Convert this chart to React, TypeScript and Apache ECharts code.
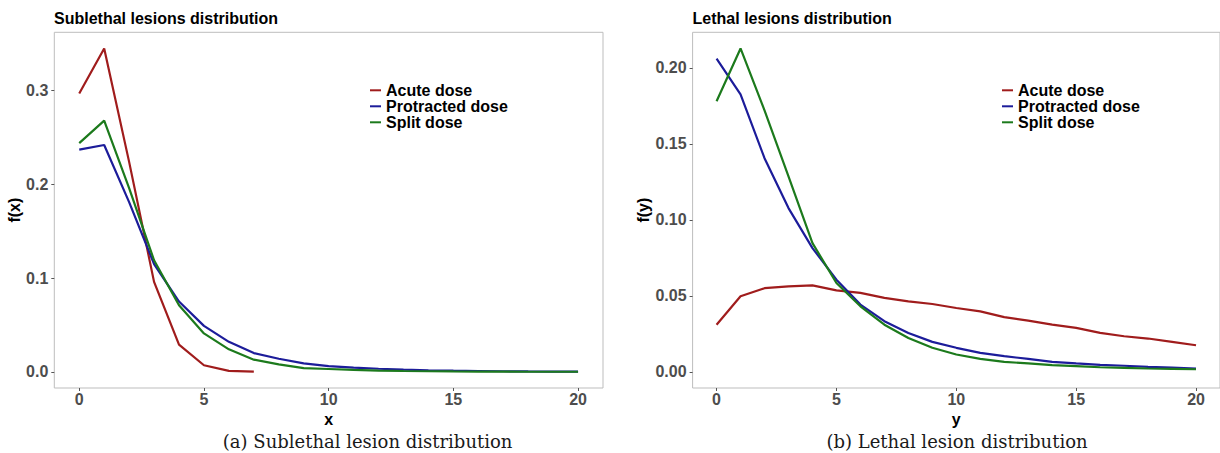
import React, { useEffect, useRef } from "react";
import * as echarts from "echarts";

// ---------- data ----------
const xValues = [0, 1, 2, 3, 4, 5, 6, 7, 8, 9, 10, 11, 12, 13, 14, 15, 16, 17, 18, 19, 20];
const seriesNames = ["Acute dose", "Protracted dose", "Split dose"];
const xTicks = [0, 5, 10, 15, 20];
const ySubTicks = [0, 0.1, 0.2, 0.3];
const yLethTicks = [0, 0.05, 0.1, 0.15, 0.2];

// Sublethal lesions, f(x)
const subAcute = [0.297, 0.345, 0.224, 0.096, 0.029, 0.007, 0.001, 0.0002];
const subProtracted = [0.237, 0.242, 0.181, 0.115, 0.075, 0.049, 0.032, 0.02, 0.014, 0.009, 0.006, 0.0045, 0.0033, 0.0024, 0.0017, 0.0012, 0.0009, 0.0006, 0.0004, 0.0003, 0.0002];
const subSplit = [0.244, 0.268, 0.196, 0.119, 0.071, 0.041, 0.024, 0.013, 0.008, 0.004, 0.003, 0.002, 0.0013, 0.0009, 0.0006, 0.0004, 0.0003, 0.0002, 0.0001, 0.0001, 0.0001];

// Lethal lesions, f(y)
const lethAcute = [0.031, 0.0497, 0.055, 0.0562, 0.0569, 0.0536, 0.0519, 0.0486, 0.0464, 0.0446, 0.042, 0.0398, 0.036, 0.0337, 0.031, 0.0289, 0.0256, 0.0234, 0.0219, 0.0197, 0.0175];
const lethProtracted = [0.206, 0.1825, 0.1405, 0.1077, 0.0814, 0.0606, 0.0442, 0.0333, 0.0256, 0.0197, 0.0158, 0.0125, 0.0103, 0.0085, 0.0066, 0.0055, 0.0046, 0.004, 0.0033, 0.0028, 0.0022];
const lethSplit = [0.178, 0.2127, 0.172, 0.1285, 0.0847, 0.0584, 0.0431, 0.031, 0.0223, 0.0158, 0.0114, 0.0085, 0.0066, 0.0055, 0.0044, 0.0037, 0.003, 0.0026, 0.0022, 0.002, 0.0017];

const titles = ["Sublethal lesions distribution", "Lethal lesions distribution"];
const yNames = ["f(x)", "f(y)"];
const xNames = ["x", "y"];
const captions = ["(a) Sublethal lesion distribution", "(b) Lethal lesion distribution"];

const colors = ["#a01c1c", "#1c1c9a", "#1c7a1c"];

const pairs = (arr: number[]) => arr.map((v, i) => [xValues[i], v]);

const SANS = "'Liberation Sans', Arial, Helvetica, sans-serif";

export default function App() {
  const ref = useRef<HTMLDivElement>(null);

  useEffect(() => {
    if (!ref.current) return;
    const chart = echarts.init(ref.current, null, { renderer: "svg" });

    const grids = [
      { left: 54.3, top: 32.3, width: 548.7, height: 355.7 },
      { left: 692.6, top: 32.3, width: 540.2, height: 355.7 },
    ];

    const yRanges = [
      { min: -0.01725, max: 0.36225, ticks: ySubTicks, fmt: (v: number) => v.toFixed(1) },
      { min: -0.01064, max: 0.22334, ticks: yLethTicks, fmt: (v: number) => v.toFixed(2) },
    ];

    const mkX = (i: number) => ({
      type: "value",
      gridIndex: i,
      min: -1,
      max: 21,
      name: xNames[i],
      nameLocation: "middle",
      nameGap: 19,
      nameTextStyle: { fontFamily: SANS, fontWeight: "bold", fontSize: 16, color: "#000" },
      axisLine: { show: false, onZero: false },
      axisTick: { show: true, length: 3, customValues: xTicks, lineStyle: { color: "#555", width: 1 } },
      axisLabel: {
        customValues: xTicks,
        margin: 3,
        fontFamily: SANS,
        fontWeight: "bold",
        fontSize: 16,
        color: "#4d4d4d",
      },
      splitLine: { show: false },
    });

    const mkY = (i: number) => ({
      type: "value",
      gridIndex: i,
      min: yRanges[i].min,
      max: yRanges[i].max,
      name: yNames[i],
      nameLocation: "middle",
      nameRotate: 90,
      nameGap: i === 0 ? 29 : 37,
      nameTextStyle: { fontFamily: SANS, fontWeight: "bold", fontSize: 16, color: "#000" },
      axisLine: { show: false, onZero: false },
      axisTick: { show: true, length: 3, customValues: yRanges[i].ticks, lineStyle: { color: "#555", width: 1 } },
      axisLabel: {
        customValues: yRanges[i].ticks,
        formatter: yRanges[i].fmt,
        margin: 6,
        fontFamily: SANS,
        fontWeight: "bold",
        fontSize: 16,
        color: "#4d4d4d",
      },
      splitLine: { show: false },
    });

    const lineSeries = (name: string, data: number[], idx: number, color: string) => ({
      type: "line",
      name,
      xAxisIndex: idx,
      yAxisIndex: idx,
      data: pairs(data),
      showSymbol: false,
      symbol: "none",
      lineStyle: { color, width: 2.2 },
      itemStyle: { color },
      emphasis: { disabled: true },
    });

    const legendBase = {
      orient: "vertical",
      top: 82.3,
      padding: 0,
      itemGap: 0,
      itemWidth: 11,
      itemHeight: 2,
      icon: "rect",
      data: seriesNames,
      textStyle: { fontFamily: SANS, fontWeight: "bold", fontSize: 16, color: "#000", lineHeight: 15.5 },
    };

    const option: any = {
      animation: false,
      backgroundColor: "#fff",
      title: [
        { text: titles[0], left: 54, top: 10, padding: 0, textStyle: { fontFamily: SANS, fontWeight: "bold", fontSize: 16, color: "#000" } },
        { text: titles[1], left: 692.6, top: 10, padding: 0, textStyle: { fontFamily: SANS, fontWeight: "bold", fontSize: 16, color: "#000" } },
      ],
      legend: [
        { ...legendBase, left: 370 },
        { ...legendBase, left: 1002 },
      ],
      grid: grids.map((g) => ({ ...g, show: true, borderColor: "#bdbdbd", borderWidth: 1, backgroundColor: "transparent" })),
      xAxis: [mkX(0), mkX(1)],
      yAxis: [mkY(0), mkY(1)],
      series: [
        lineSeries(seriesNames[0], subAcute, 0, colors[0]),
        lineSeries(seriesNames[1], subProtracted, 0, colors[1]),
        lineSeries(seriesNames[2], subSplit, 0, colors[2]),
        lineSeries(seriesNames[0], lethAcute, 1, colors[0]),
        lineSeries(seriesNames[1], lethProtracted, 1, colors[1]),
        lineSeries(seriesNames[2], lethSplit, 1, colors[2]),
      ],
      graphic: [
        {
          type: "text",
          x: 367.6,
          y: 441.5,
          style: {
            text: captions[0],
            textAlign: "center",
            textVerticalAlign: "middle",
            fontFamily: "'DejaVu Serif', serif",
            fontSize: 18,
            fill: "#1a1a1a",
          },
        },
        {
          type: "text",
          x: 957,
          y: 441.5,
          style: {
            text: captions[1],
            textAlign: "center",
            textVerticalAlign: "middle",
            fontFamily: "'DejaVu Serif', serif",
            fontSize: 18,
            fill: "#1a1a1a",
          },
        },
      ],
    };

    chart.setOption(option);
    return () => chart.dispose();
  }, []);

  return (
    <div
      ref={ref}
      style={{ position: "fixed", left: 0, top: 0, width: 1220, height: 453, background: "#fff", overflow: "hidden" }}
    />
  );
}
